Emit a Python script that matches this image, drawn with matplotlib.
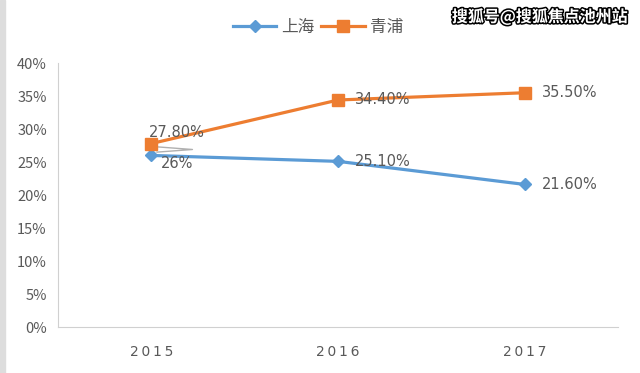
import numpy as np
import matplotlib
matplotlib.use("Agg")
import matplotlib.pyplot as plt
import matplotlib.patheffects as pe

plt.rcParams['font.family'] = ['Noto Sans CJK SC', 'DejaVu Sans']

# data
years = ['2015', '2016', '2017']
shanghai = [26.0, 25.1, 21.6]
qingpu = [27.8, 34.4, 35.5]
shanghai_labels = ['26%', '25.10%', '21.60%']
qingpu_labels = ['27.80%', '34.40%', '35.50%']

blue = '#5B9BD5'
orange = '#ED7D31'
grey = '#595959'

fig = plt.figure(figsize=(6.4, 3.73), dpi=100)
ax = fig.add_axes([0.0906, 0.1233, 0.8754, 0.7077])

x = np.arange(len(years))
ax.plot(x, shanghai, color=blue, lw=2.3, marker='D', ms=6.5, label='上海', zorder=3)
ax.plot(x, qingpu, color=orange, lw=2.3, marker='s', ms=8.5, label='青浦', zorder=3)

ax.set_xlim(-0.5, 2.5)
ax.set_ylim(0, 40)
ax.set_yticks(np.arange(0, 41, 5))
ax.set_yticklabels([f'{v}%' for v in range(0, 41, 5)], color=grey, fontsize=10.5)
ax.set_xticks(x)
# letter spaced years, as in the source chart
ax.set_xticklabels(['\u2009'.join(y) for y in years], color=grey, fontsize=10,
                   family='DejaVu Sans')
ax.tick_params(length=0, pad=8)
ax.tick_params(axis='x', pad=13)

for s in ['top', 'right']:
    ax.spines[s].set_visible(False)
for s in ['left', 'bottom']:
    ax.spines[s].set_color('#D0D0D0')

# data labels
offs_sh = [(7, -6), (12, 0), (12, 0)]
offs_qp = [(-1.5, 8), (12, 0), (12, 0)]
for i in range(len(years)):
    ax.annotate(shanghai_labels[i], (x[i], shanghai[i]), xytext=offs_sh[i],
                textcoords='offset points', color=grey, fontsize=10.5,
                va='center', ha='left', family='DejaVu Sans')
    ax.annotate(qingpu_labels[i], (x[i], qingpu[i]), xytext=offs_qp[i],
                textcoords='offset points', color=grey, fontsize=10.5,
                va='center', ha='left', family='DejaVu Sans')

# little leader line at 2015
ax.plot([0.03, 0.22, 0.03], [27.3, 26.9, 26.5], color='#B0B0B0', lw=1, zorder=2)

leg = fig.legend(loc='upper center', bbox_to_anchor=(0.497, 0.99), ncol=2,
                 frameon=False, fontsize=12, handlelength=2.6, columnspacing=0.4,
                 handletextpad=0.3)
for t in leg.get_texts():
    t.set_color(grey)

fig.text(0.981, 0.955, '搜狐号@搜狐焦点池州站', ha='right', va='center', fontsize=11.5,
         color='white', fontweight='bold',
         path_effects=[pe.withStroke(linewidth=2.2, foreground='black')])

fig.patches.append(plt.Rectangle((0, 0), 0.008, 1, transform=fig.transFigure,
                                 color='#DDDDDD', zorder=0))

fig.savefig('out.png', dpi=100)
